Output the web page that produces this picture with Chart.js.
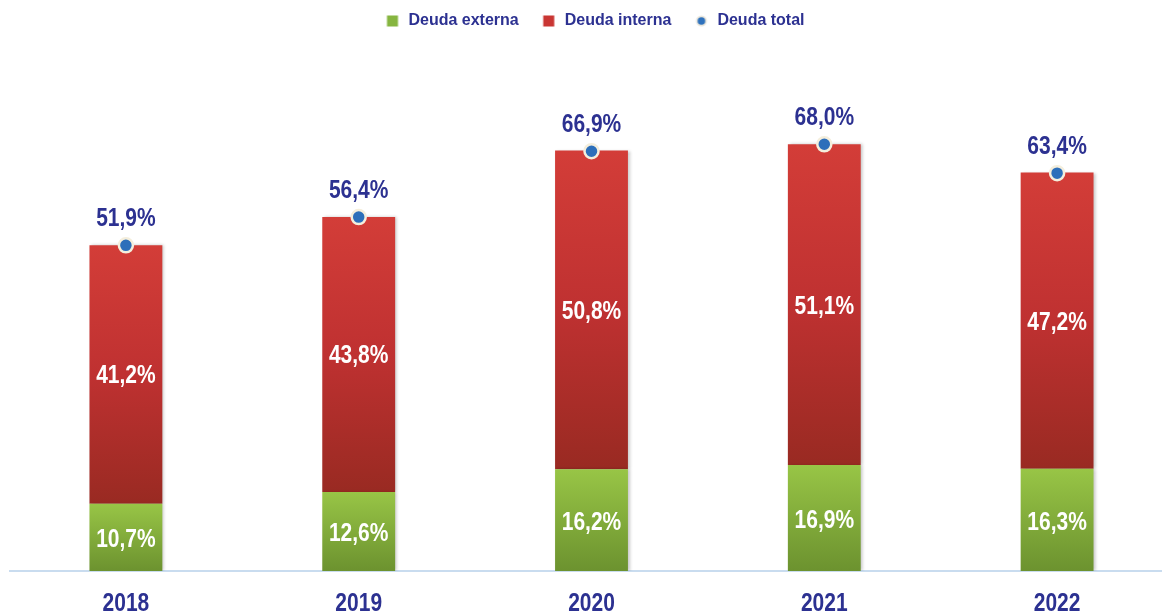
<!DOCTYPE html>
<html>
<head>
<meta charset="utf-8">
<script src="https://cdn.jsdelivr.net/npm/chart.js@4.4.1/dist/chart.umd.min.js"></script>
<style>
  html, body { margin: 0; padding: 0; background: #ffffff; overflow: hidden; }
  #wrap { width: 1162px; height: 613px; overflow: hidden; position: relative; }
  canvas { display: block; }
</style>
</head>
<body>
<div id="wrap"><canvas id="c" width="1183" height="613"></canvas></div>
<script>
const years = ['2018', '2019', '2020', '2021', '2022'];
const externa = [10.7, 12.6, 16.2, 16.9, 16.3];
const interna = [41.2, 43.8, 50.8, 51.1, 47.2];
const total = [51.9, 56.4, 66.9, 68.0, 63.4];
const seriesNames = ['Deuda externa', 'Deuda interna', 'Deuda total'];

const FONT = '"Liberation Sans", Arial, Helvetica, sans-serif';
const NAVY = '#2c3191';
const SQUEEZE = 0.84;

function fmt(v) { return v.toFixed(1).replace('.', ',') + '%'; }

function greenFill(context) {
  const chart = context.chart;
  if (!chart.chartArea || context.dataIndex === undefined) return '#8bbb46';
  const y = chart.scales.y;
  const i = context.dataIndex;
  const g = chart.ctx.createLinearGradient(0, y.getPixelForValue(externa[i]), 0, y.getPixelForValue(0));
  g.addColorStop(0, '#98c546');
  g.addColorStop(1, '#6c922f');
  return g;
}
function redFill(context) {
  const chart = context.chart;
  if (!chart.chartArea || context.dataIndex === undefined) return '#cc3834';
  const y = chart.scales.y;
  const i = context.dataIndex;
  const g = chart.ctx.createLinearGradient(0, y.getPixelForValue(externa[i] + interna[i]), 0, y.getPixelForValue(externa[i]));
  g.addColorStop(0, '#d33d38');
  g.addColorStop(0.5, '#bf3131');
  g.addColorStop(1, '#992a22');
  return g;
}

function legendIcon(kind) {
  const c = document.createElement('canvas');
  c.width = 14; c.height = 14;
  const x = c.getContext('2d');
  if (kind === 'green') { x.fillStyle = '#86b540'; x.fillRect(1.5, 1.5, 11, 11); }
  else if (kind === 'red') { x.fillStyle = '#c93633'; x.fillRect(1.5, 1.5, 11, 11); }
  else {
    x.fillStyle = '#e9e6dc'; x.beginPath(); x.arc(7, 7, 5.5, 0, Math.PI * 2); x.fill();
    x.fillStyle = '#2f72bd'; x.beginPath(); x.arc(7, 7, 3.8, 0, Math.PI * 2); x.fill();
  }
  return c;
}
const icons = [legendIcon('green'), legendIcon('red'), legendIcon('blue')];

const legendHeight = {
  id: 'legendHeight',
  beforeInit(chart) {
    const origFit = chart.legend.fit;
    chart.legend.fit = function () { origFit.bind(chart.legend)(); this.height = 78; };
  }
};

function squeezedText(ctx, txt, x, y) {
  ctx.save();
  ctx.translate(x, y);
  ctx.scale(SQUEEZE, 1);
  ctx.fillText(txt, 0, 0);
  ctx.restore();
}

const barShadow = {
  id: 'barShadow',
  beforeDatasetDraw(chart, args) {
    if (args.index > 1) return;
    const ctx = chart.ctx;
    ctx.save();
    ctx.shadowColor = 'rgba(0,0,0,0.22)';
    ctx.shadowBlur = 3;
    ctx.shadowOffsetX = 2;
    ctx.shadowOffsetY = 0;
  },
  afterDatasetDraw(chart, args) {
    if (args.index > 1) return;
    chart.ctx.restore();
  }
};

const labelsPlugin = {
  id: 'valueLabels',
  afterDatasetsDraw(chart) {
    const ctx = chart.ctx;
    const y = chart.scales.y;
    const x = chart.scales.x;
    ctx.save();
    ctx.textAlign = 'center';
    ctx.textBaseline = 'middle';
    ctx.fillStyle = '#ffffff';
    ctx.font = 'bold 25px ' + FONT;
    const m0 = chart.getDatasetMeta(0), m1 = chart.getDatasetMeta(1);
    externa.forEach((v, i) => {
      const el = m0.data[i];
      squeezedText(ctx, fmt(v), el.x, (y.getPixelForValue(v) + y.getPixelForValue(0)) / 2 + 3);
    });
    interna.forEach((v, i) => {
      const el = m1.data[i];
      squeezedText(ctx, fmt(v), el.x, (y.getPixelForValue(externa[i]) + y.getPixelForValue(externa[i] + v)) / 2 + 2);
    });
    ctx.fillStyle = NAVY;
    const m2 = chart.getDatasetMeta(2);
    total.forEach((v, i) => {
      const el = m2.data[i];
      squeezedText(ctx, fmt(v), el.x, el.y - 26);
    });
    years.forEach((yr, i) => {
      squeezedText(ctx, yr, x.getPixelForValue(i), chart.chartArea.bottom + 33);
    });
    ctx.restore();
  }
};

new Chart(document.getElementById('c'), {
  data: {
    labels: years,
    datasets: [
      {
        type: 'bar', label: seriesNames[0], data: externa, stack: 's',
        backgroundColor: greenFill, borderWidth: 0,
        barPercentage: 1, categoryPercentage: 0.313, order: 2
      },
      {
        type: 'bar', label: seriesNames[1], data: interna, stack: 's',
        backgroundColor: redFill, borderWidth: 0,
        barPercentage: 1, categoryPercentage: 0.313, order: 2
      },
      {
        type: 'line', label: seriesNames[2], data: total, showLine: false,
        pointRadius: 7, pointHoverRadius: 7, pointBackgroundColor: '#2d6fba',
        pointBorderColor: '#f4eedc', pointBorderWidth: 2.5, order: 1
      }
    ]
  },
  options: {
    responsive: false,
    animation: false,
    devicePixelRatio: 1,
    layout: { padding: { left: 6, right: 0, top: -9, bottom: 42 } },
    plugins: {
      tooltip: { enabled: false },
      legend: {
        position: 'top',
        labels: {
          usePointStyle: true,
          padding: 22,
          font: { family: FONT, size: 16, weight: 'bold' },
          color: NAVY,
          generateLabels(chart) {
            return seriesNames.map((n, i) => ({
              text: n, fillStyle: 'transparent', strokeStyle: 'transparent', lineWidth: 0,
              pointStyle: icons[i], fontColor: NAVY, datasetIndex: i, hidden: false
            }));
          }
        }
      }
    },
    scales: {
      x: {
        stacked: true,
        grid: { display: false, drawTicks: false },
        border: { display: true, color: '#c9dcef', width: 2 },
        ticks: { display: false }
      },
      y: {
        stacked: true, display: false, min: 0, max: 80
      }
    }
  },
  plugins: [legendHeight, barShadow, labelsPlugin]
});
</script>
</body>
</html>
